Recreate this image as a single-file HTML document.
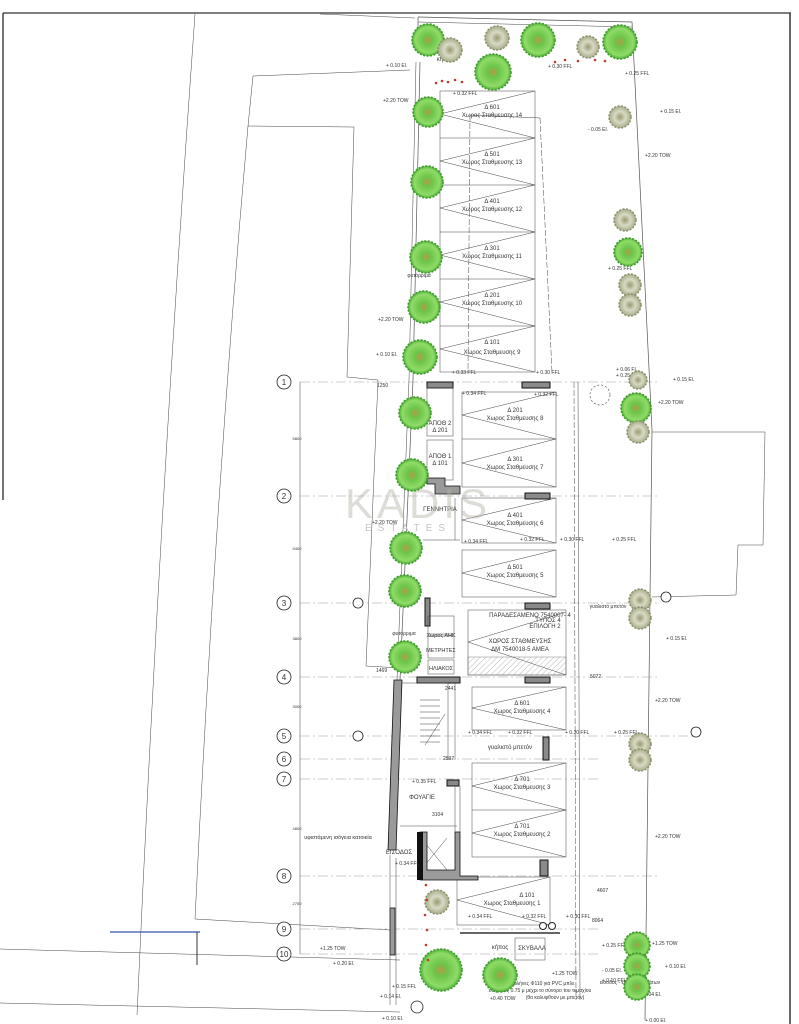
<!DOCTYPE html>
<html><head><meta charset="utf-8"><style>
html,body{margin:0;padding:0;background:#fff;}
svg{display:block;}
text{font-family:"Liberation Sans","DejaVu Sans",sans-serif;fill:#333;}
.s{font-size:5px;}
.m{font-size:6px;}
.l{font-size:7px;}
.g{fill:url(#tg);stroke:#3f9a2c;stroke-width:1.6;stroke-dasharray:2 1.5;}
.o{fill:url(#to);stroke:#858a68;stroke-width:1.4;stroke-dasharray:2 1.5;}
.ln{stroke:#555;stroke-width:0.7;fill:none;}
.th{stroke:#444;stroke-width:0.5;fill:none;}
.grid{stroke:#999;stroke-width:0.6;stroke-dasharray:10 3 2 3;fill:none;}
.bar{fill:#8a8a8a;stroke:#111;stroke-width:1;}
.wall{fill:#9a9a9a;stroke:#111;stroke-width:0.8;}
</style></head><body>
<svg width="799" height="1024" viewBox="0 0 799 1024" xmlns="http://www.w3.org/2000/svg">
<defs>
<radialGradient id="tg"><stop offset="0" stop-color="#b89a4a"/><stop offset="0.3" stop-color="#6cc448"/><stop offset="0.8" stop-color="#8fdc68"/><stop offset="1" stop-color="#4fb036"/></radialGradient>
<radialGradient id="to"><stop offset="0" stop-color="#9a9a70"/><stop offset="0.5" stop-color="#d8dac4"/><stop offset="1" stop-color="#a8ad88"/></radialGradient>
<pattern id="hatch" width="4" height="4" patternUnits="userSpaceOnUse" patternTransform="rotate(45)"><line x1="0" y1="0" x2="0" y2="4" stroke="#888" stroke-width="0.6"/></pattern>
</defs>
<rect width="799" height="1024" fill="#fff"/>
<line x1="3" y1="13" x2="791" y2="13" stroke="#555" stroke-width="1.5"/>
<line x1="3" y1="13" x2="3" y2="500" stroke="#444" stroke-width="1.5"/>
<line x1="790" y1="13" x2="790" y2="1024" stroke="#333" stroke-width="1.5"/>
<path d="M195 14 Q160 500 137 1015" class="th"/>
<path d="M320 14 L415 18" class="th"/>
<polyline points="410,70 253,76 248,126" class="th"/>
<polyline points="248,126 354,127 347,377 378,380 366,666 400,668" class="th"/>
<path d="M248 126 Q215 500 195 919 L390 930" class="th"/>
<line x1="0" y1="949" x2="400" y2="960" class="th"/>
<line x1="0" y1="1003" x2="400" y2="1012" class="th"/>
<line x1="110" y1="932" x2="200" y2="932" stroke="#3355aa" stroke-width="1.2"/>
<line x1="197" y1="932" x2="197" y2="965" stroke="#333" stroke-width="1"/>
<polyline points="418,17 632,22 652,430 645,1020" class="ln"/>
<line x1="418" y1="17" x2="418" y2="50" class="ln"/>
<path d="M420 62 L413 380 L400 680" class="ln"/>
<path d="M416 62 L409 380 L397 680" class="th"/>
<line x1="418" y1="22" x2="632" y2="27" class="th"/>
<polyline points="652,432 765,432 763,545 738,545 736,595 652,597" class="th"/>
<g class="grid">
<line x1="300" y1="382" x2="660" y2="382"/><line x1="300" y1="496" x2="660" y2="496"/>
<line x1="300" y1="603" x2="660" y2="603"/><line x1="300" y1="677" x2="660" y2="677"/>
<line x1="300" y1="736" x2="700" y2="736"/><line x1="300" y1="759" x2="600" y2="759"/>
<line x1="300" y1="779" x2="600" y2="779"/><line x1="300" y1="876" x2="660" y2="876"/>
<line x1="300" y1="929" x2="600" y2="929"/><line x1="300" y1="954" x2="600" y2="954"/>
</g>
<line x1="300" y1="382" x2="300" y2="954" class="th"/>
<g fill="#fff" stroke="#222" stroke-width="0.8">
<circle cx="284" cy="382" r="7"/><circle cx="284" cy="496" r="7"/><circle cx="284" cy="603" r="7"/>
<circle cx="284" cy="677" r="7"/><circle cx="284" cy="736" r="7"/><circle cx="284" cy="759" r="7"/>
<circle cx="284" cy="779" r="7"/><circle cx="284" cy="876" r="7"/><circle cx="284" cy="929" r="7"/>
<circle cx="284" cy="954" r="7"/>
</g>
<g font-size="8" text-anchor="middle" style="font-family:'Liberation Serif',serif">
<text x="284" y="385">1</text><text x="284" y="499">2</text><text x="284" y="606">3</text>
<text x="284" y="680">4</text><text x="284" y="739">5</text><text x="284" y="762">6</text>
<text x="284" y="782">7</text><text x="284" y="879">8</text><text x="284" y="932">9</text>
<text x="284" y="957">10</text>
</g>
<g class="s" text-anchor="middle">
<text x="297" y="440" font-size="4">5800</text><text x="297" y="550" font-size="4">5400</text>
<text x="297" y="640" font-size="4">3800</text><text x="297" y="708" font-size="4">3000</text>
<text x="297" y="830" font-size="4">4800</text><text x="297" y="905" font-size="4">2750</text>
</g>
<g fill="#fff" stroke="#222" stroke-width="0.8">
<circle cx="358" cy="603" r="5"/><circle cx="358" cy="736" r="5"/>
<circle cx="666" cy="597" r="5"/><circle cx="696" cy="732" r="5"/><circle cx="417" cy="1007" r="6"/>
</g>
<g class="th">
<rect x="440" y="91" width="95" height="281"/>
<line x1="440" y1="138" x2="535" y2="138"/><line x1="440" y1="185" x2="535" y2="185"/>
<line x1="440" y1="232" x2="535" y2="232"/><line x1="440" y1="279" x2="535" y2="279"/>
<line x1="440" y1="326" x2="535" y2="326"/>
<polyline points="535,91 440,114 535,138 440,161 535,185 440,208 535,232 440,255 535,279 440,302 535,326 440,349 535,372"/>
<line x1="470" y1="115" x2="468" y2="372" stroke-dasharray="6 2"/>
<line x1="470" y1="115" x2="540" y2="118"/>
<line x1="540" y1="118" x2="552" y2="372" stroke-dasharray="6 2"/>
</g>
<g class="m" text-anchor="middle">
<text x="492" y="109">Δ 601</text><text x="492" y="117">Χωρος Σταθμευσης 14</text>
<text x="492" y="156">Δ 501</text><text x="492" y="164">Χωρος Σταθμευσης 13</text>
<text x="492" y="203">Δ 401</text><text x="492" y="211">Χωρος Σταθμευσης 12</text>
<text x="492" y="250">Δ 301</text><text x="492" y="258">Χωρος Σταθμευσης 11</text>
<text x="492" y="297">Δ 201</text><text x="492" y="305">Χωρος Σταθμευσης 10</text>
<text x="492" y="344">Δ 101</text><text x="492" y="354">Χωρος Σταθμευσης 9</text>
</g>
<g class="th">
<rect x="462" y="392" width="94" height="95"/><line x1="462" y1="439" x2="556" y2="439"/>
<polyline points="556,392 462,415 556,439 462,463 556,487"/>
<rect x="462" y="498" width="94" height="45"/><polyline points="556,498 462,520 556,543"/>
<rect x="462" y="550" width="94" height="47"/><polyline points="556,550 462,573 556,597"/>
<rect x="468" y="610" width="98" height="65"/><polyline points="566,612 468,642 566,675"/>
<rect x="472" y="687" width="94" height="43"/><polyline points="566,687 472,708 566,730"/>
<rect x="472" y="763" width="94" height="94"/><line x1="472" y1="810" x2="566" y2="810"/>
<polyline points="566,763 472,786 566,810 472,833 566,857"/>
<rect x="457" y="877" width="93" height="48"/><polyline points="550,877 457,900 550,925"/>
<line x1="574" y1="382" x2="576" y2="1000" stroke-dasharray="6 2"/>
<line x1="578" y1="382" x2="580" y2="1000"/>
</g>
<rect x="468" y="657" width="98" height="18" fill="url(#hatch)" stroke="#666" stroke-width="0.4"/>
<g class="m" text-anchor="middle">
<text x="515" y="412">Δ 201</text><text x="515" y="420">Χωρος Σταθμευσης 8</text>
<text x="515" y="461">Δ 301</text><text x="515" y="469">Χωρος Σταθμευσης 7</text>
<text x="515" y="517">Δ 401</text><text x="515" y="525">Χωρος Σταθμευσης 6</text>
<text x="515" y="569">Δ 501</text><text x="515" y="577">Χωρος Σταθμευσης 5</text>
<text x="530" y="617">ΠΑΡΑΔΕΣΑΜΕΝΟ 7540007- 4</text><text x="548" y="622">ΤΥΠΟΣ 4</text><text x="545" y="628">ΕΠΙΛΟΓΗ 2</text>
<text x="520" y="643">ΧΩΡΟΣ ΣΤΑΘΜΕΥΣΗΣ</text><text x="520" y="651">ΔΜ 7540018-5 ΑΜΕΑ</text>
<text x="522" y="705">Δ 601</text><text x="522" y="713">Χωρος Σταθμευσης 4</text>
<text x="522" y="781">Δ 701</text><text x="522" y="789">Χωρος Σταθμευσης 3</text>
<text x="522" y="828">Δ 701</text><text x="522" y="836">Χωρος Σταθμευσης 2</text>
<text x="527" y="897">Δ 101</text><text x="512" y="905">Χωρος Σταθμευσης 1</text>
</g>
<g class="bar">
<rect x="427" y="382" width="26" height="6"/><rect x="522" y="382" width="28" height="6"/>
<rect x="525" y="493" width="25" height="6"/><rect x="525" y="603" width="25" height="6"/>
<rect x="417" y="677" width="43" height="6"/><rect x="525" y="677" width="25" height="6"/>
<rect x="543" y="737" width="6" height="23"/><rect x="447" y="780" width="12" height="6"/>
<rect x="540" y="860" width="8" height="16"/>
<rect x="425" y="598" width="5" height="28"/>
</g>
<g class="th">
<rect x="427" y="388" width="26" height="48"/><rect x="427" y="440" width="26" height="40"/>
<rect x="428" y="616" width="26" height="18"/><rect x="428" y="636" width="26" height="22"/>
<rect x="428" y="660" width="26" height="14"/>
<line x1="455" y1="498" x2="455" y2="540"/><line x1="423" y1="540" x2="460" y2="540"/>
</g>
<path d="M427 478 L445 478 L445 486 L460 486 L460 494 L435 494 L435 484 L427 484Z" class="wall"/>
<g class="s" text-anchor="middle">
<text x="440" y="425" font-size="6">ΑΠΟΘ 2</text><text x="440" y="432" font-size="6">Δ 201</text>
<text x="440" y="458" font-size="6">ΑΠΟΘ 1</text><text x="440" y="465" font-size="6">Δ 101</text>
<text x="440" y="511" font-size="6">ΓΕΝΝΗΤΡΙΑ</text>
<text x="441" y="637" font-size="5.5">Χωρος ΑΗΚ</text><text x="441" y="652" font-size="5.5">ΜΕΤΡΗΤΕΣ</text>
<text x="441" y="670" font-size="5.5">ΗΛΙΑΚΟΣ</text>
</g>
<path d="M394 680 L402 680 L396 850 L388 850Z" class="wall"/>
<rect x="390" y="908" width="5" height="47" class="wall"/>
<g class="th">
<line x1="402" y1="683" x2="448" y2="683"/><line x1="448" y1="683" x2="448" y2="760"/>
<line x1="455" y1="683" x2="455" y2="760"/>
<line x1="420" y1="700" x2="440" y2="700"/><line x1="420" y1="706" x2="440" y2="706"/>
<line x1="420" y1="712" x2="440" y2="712"/><line x1="420" y1="718" x2="440" y2="718"/>
<line x1="420" y1="724" x2="440" y2="724"/><line x1="420" y1="730" x2="440" y2="730"/>
<line x1="420" y1="736" x2="440" y2="736"/><line x1="420" y1="742" x2="440" y2="742"/>
<line x1="425" y1="745" x2="445" y2="714"/>
<line x1="400" y1="826" x2="457" y2="826"/>
<line x1="455" y1="786" x2="455" y2="832"/><line x1="460" y1="786" x2="460" y2="832"/>
<line x1="390" y1="855" x2="390" y2="1005"/><line x1="396" y1="858" x2="396" y2="1005"/>
<line x1="421" y1="838" x2="447" y2="870"/><line x1="447" y1="838" x2="421" y2="870"/>
</g>
<path d="M420 832 L427 832 L427 870 L455 870 L455 832 L460 832 L460 876 L478 876 L478 880 L420 880Z" class="wall"/>
<path d="M420 832 L420 880" stroke="#111" stroke-width="6"/>
<g class="m" text-anchor="middle">
<text x="422" y="799">ΦΟΥΑΓΙΕ</text><text x="399" y="854">ΕΙΣΟΔΟΣ</text>
<text x="510" y="749">γυαλιστό μπετόν</text>
<text x="338" y="839" font-size="5.5">υφιστάμενη ισόγεια κατοικία</text>
<text x="500" y="949">κήπος</text><text x="532" y="950">ΣΚΥΒΑΛΑ</text>
<text x="445" y="61">κήπος</text><text x="419" y="277" font-size="5">φυτόρριμα</text>
<text x="404" y="635" font-size="5">φυτόρριμα</text>
<text x="608" y="608" font-size="5">γυαλιστό μπετόν</text>
<text x="540" y="985" font-size="5">2 σωλήνες Φ110 γιά PVC μπλε</text>
<text x="540" y="992" font-size="5">σε βάθος 0.75 μ μέχρι το σύνορο του τεμαχίου</text>
<text x="555" y="999" font-size="5">(θα καλυφθούν με μπετόν)</text>
<text x="630" y="984" font-size="5">είσοδος - έξοδος οχημάτων</text>
</g>
<rect x="515" y="938" width="30" height="22" class="th"/>
<line x1="460" y1="933" x2="560" y2="933" stroke="#666" stroke-width="2"/>
<circle cx="543" cy="926" r="3.5" fill="#fff" stroke="#222"/><circle cx="552" cy="926" r="3.5" fill="#fff" stroke="#222"/>
<circle cx="600" cy="395" r="10" fill="none" stroke="#444" stroke-width="0.6" stroke-dasharray="2 2"/>
<text x="345" y="518" font-size="42" style="fill:#b8b2a8;opacity:0.45;letter-spacing:4px">KADIS</text>
<text x="365" y="531" font-size="10" style="fill:#c4c4c4;letter-spacing:6px">ESTATES</text>
<g class="s">
<text x="386" y="67">+ 0.10 El.</text><text x="383" y="102">+2.20 TOW</text><text x="453" y="95">+ 0.32 FFL</text>
<text x="548" y="68">+ 0.30 FFL</text><text x="625" y="75">+ 0.25 FFL</text><text x="660" y="113">+ 0.15 El.</text>
<text x="588" y="131">- 0.05 El.</text><text x="645" y="157">+2.20 TOW</text><text x="608" y="270">+ 0.25 FFL</text>
<text x="378" y="321">+2.20 TOW</text><text x="376" y="356">+ 0.10 El.</text><text x="452" y="374">+ 0.33 FFL</text>
<text x="536" y="374">+ 0.30 FFL</text><text x="616" y="371">+ 0.06 FL</text><text x="616" y="377">+ 0.25 FL</text>
<text x="673" y="381">+ 0.15 El.</text><text x="658" y="404">+2.20 TOW</text><text x="462" y="395">+ 0.34 FFL</text>
<text x="534" y="396">+ 0.32 FFL</text><text x="464" y="543">+ 0.34 FFL</text><text x="520" y="541">+ 0.32 FFL</text>
<text x="560" y="541">+ 0.30 FFL</text><text x="612" y="541">+ 0.25 FFL</text><text x="372" y="524">+2.20 TOW</text>
<text x="666" y="640">+ 0.15 El.</text><text x="655" y="702">+2.20 TOW</text>
<text x="468" y="734">+ 0.34 FFL</text><text x="508" y="734">+ 0.32 FFL</text><text x="565" y="734">+ 0.30 FFL</text>
<text x="614" y="734">+ 0.25 FFL</text><text x="412" y="783">+ 0.35 FFL</text><text x="655" y="838">+2.20 TOW</text>
<text x="395" y="865">+ 0.34 FFL</text><text x="468" y="918">+ 0.34 FFL</text><text x="522" y="918">+ 0.32 FFL</text>
<text x="566" y="918">+ 0.30 FFL</text><text x="320" y="950">+1.25 TOW</text><text x="602" y="947">+ 0.25 FFL</text>
<text x="652" y="945">+1.25 TOW</text><text x="333" y="965">+ 0.20 El.</text><text x="602" y="972">- 0.05 El.</text>
<text x="602" y="982">+ 0.10 FFL</text><text x="665" y="968">+ 0.10 El.</text><text x="552" y="975">+1.25 TOW</text>
<text x="392" y="988">+ 0.15 FFL</text><text x="380" y="998">+ 0.14 El.</text><text x="490" y="1000">+0.40 TOW</text>
<text x="640" y="996">+ 0.04 El.</text><text x="382" y="1020">+ 0.10 El.</text><text x="645" y="1022">+ 0.00 El.</text>
<text x="597" y="892">4607</text><text x="592" y="922">8064</text><text x="590" y="678">5072</text>
<text x="377" y="387">1250</text><text x="376" y="672">1469</text><text x="445" y="690">2441</text>
<text x="443" y="760">2597</text><text x="432" y="816">3104</text>
</g>
<g>
<circle class="g" cx="428" cy="40" r="16"/><circle class="o" cx="450" cy="50" r="12"/>
<circle class="o" cx="497" cy="38" r="12"/><circle class="g" cx="538" cy="40" r="17"/>
<circle class="g" cx="493" cy="72" r="18"/><circle class="o" cx="588" cy="47" r="11"/>
<circle class="g" cx="620" cy="42" r="17"/>
<circle class="g" cx="428" cy="112" r="15"/><circle class="g" cx="427" cy="182" r="16"/>
<circle class="g" cx="426" cy="257" r="16"/><circle class="g" cx="424" cy="307" r="16"/>
<circle class="g" cx="420" cy="357" r="17"/><circle class="g" cx="415" cy="413" r="16"/>
<circle class="g" cx="412" cy="475" r="16"/><circle class="g" cx="406" cy="548" r="16"/>
<circle class="g" cx="405" cy="591" r="16"/><circle class="g" cx="405" cy="657" r="16"/>
<circle class="o" cx="620" cy="117" r="11"/><circle class="o" cx="625" cy="220" r="11"/>
<circle class="g" cx="628" cy="252" r="14"/><circle class="o" cx="630" cy="285" r="11"/>
<circle class="o" cx="630" cy="305" r="11"/><circle class="o" cx="638" cy="380" r="9"/>
<circle class="g" cx="636" cy="408" r="15"/><circle class="o" cx="638" cy="432" r="11"/>
<circle class="o" cx="640" cy="600" r="11"/><circle class="o" cx="640" cy="618" r="11"/>
<circle class="o" cx="640" cy="744" r="11"/><circle class="o" cx="640" cy="760" r="11"/>
<circle class="o" cx="437" cy="902" r="12"/>
<circle class="g" cx="441" cy="970" r="21"/><circle class="g" cx="500" cy="975" r="17"/>
<circle class="g" cx="637" cy="945" r="13"/><circle class="g" cx="637" cy="966" r="13"/>
<circle class="g" cx="637" cy="987" r="13"/>
</g>
<g fill="#c0392b">
<circle cx="436" cy="83" r="1.3"/><circle cx="442" cy="81" r="1.3"/><circle cx="448" cy="82" r="1.3"/><circle cx="455" cy="80" r="1.3"/><circle cx="462" cy="82" r="1.3"/>
<circle cx="555" cy="62" r="1.3"/><circle cx="565" cy="60" r="1.3"/><circle cx="578" cy="61" r="1.3"/><circle cx="595" cy="60" r="1.3"/><circle cx="605" cy="61" r="1.3"/>
<circle cx="426" cy="885" r="1.3"/><circle cx="427" cy="900" r="1.3"/><circle cx="425" cy="915" r="1.3"/><circle cx="427" cy="930" r="1.3"/><circle cx="426" cy="945" r="1.3"/><circle cx="428" cy="960" r="1.3"/>
</g>
</svg>
</body></html>
